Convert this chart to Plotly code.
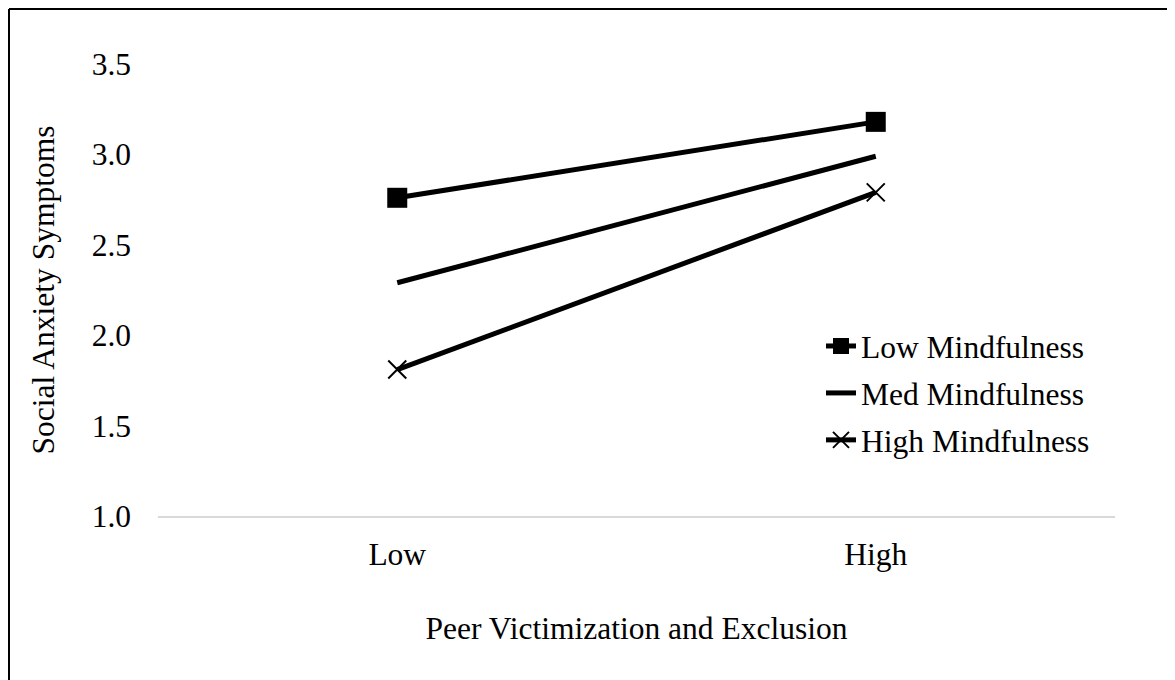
import plotly.graph_objects as go

categories = ["Low", "High"]
low_mind = [2.76, 3.18]
med_mind = [2.29, 2.99]
high_mind = [1.81, 2.79]
y_ticks = [1.0, 1.5, 2.0, 2.5, 3.0, 3.5]
y_tick_text = ["1.0", "1.5", "2.0", "2.5", "3.0", "3.5"]

W, H = 1175, 680
OFF = 8  # page body margin offset
# plot area in page pixels: x 158..1115, y 64..516
L = 158 - OFF
R = W - (1115 - OFF)
T = 64 - OFF
B = H - (516 - OFF)
pw, ph = W - L - R, H - T - B


def px_x(page_x):
    return (page_x - OFF - L) / pw


def px_y(page_y):
    return (H - B - (page_y - OFF)) / ph


FONT = "Liberation Serif, Times New Roman, serif"
FS = 31.5

fig = go.Figure()
fig.add_trace(go.Scatter(
    x=categories, y=low_mind, name="Low Mindfulness", mode="lines+markers",
    line=dict(color="black", width=5),
    marker=dict(symbol="square", size=20, color="black"),
    legendgroup="a",
))
fig.add_trace(go.Scatter(
    x=categories, y=med_mind, name="Med Mindfulness", mode="lines",
    line=dict(color="black", width=5),
    legendgroup="b",
))
fig.add_trace(go.Scatter(
    x=categories, y=high_mind, name="High Mindfulness", mode="lines+markers",
    line=dict(color="black", width=5),
    marker=dict(symbol="x-thin", size=18, color="black",
                line=dict(color="black", width=2)),
    legendgroup="c",
))

fig.update_layout(
    width=W, height=H,
    margin=dict(l=L, r=R, t=T, b=B, autoexpand=False),
    paper_bgcolor="white", plot_bgcolor="white",
    font=dict(family=FONT, size=FS, color="black"),
    showlegend=True,
    legend=dict(
        x=px_x(821), y=px_y(319), xanchor="left", yanchor="top",
        bgcolor="rgba(0,0,0,0)", font=dict(size=FS, family=FONT),
        tracegroupgap=3, itemwidth=30,
    ),
    xaxis=dict(
        type="category", range=[-0.5, 1.5],
        showgrid=False, zeroline=False,
        showline=True, linecolor="#d9d9d9", linewidth=2,
        ticks="", ticklabelstandoff=9,
        title=dict(text="Peer Victimization and Exclusion", standoff=46,
                   font=dict(size=FS)),
        automargin=False,
    ),
    yaxis=dict(
        range=[1.0, 3.5], tickvals=y_ticks, ticktext=y_tick_text,
        showgrid=False, zeroline=False, showline=False,
        ticks="", ticklabelstandoff=26,
        title=dict(text="Social Anxiety Symptoms", standoff=27,
                   font=dict(size=FS)),
        automargin=False,
    ),
    shapes=[
        dict(type="line", xref="paper", yref="paper",
             x0=px_x(9), x1=px_x(1250), y0=px_y(9), y1=px_y(9),
             line=dict(color="black", width=2)),
        dict(type="line", xref="paper", yref="paper",
             x0=px_x(9), x1=px_x(9), y0=px_y(9), y1=px_y(750),
             line=dict(color="black", width=2)),
    ],
)

fig.write_html("out.html")
